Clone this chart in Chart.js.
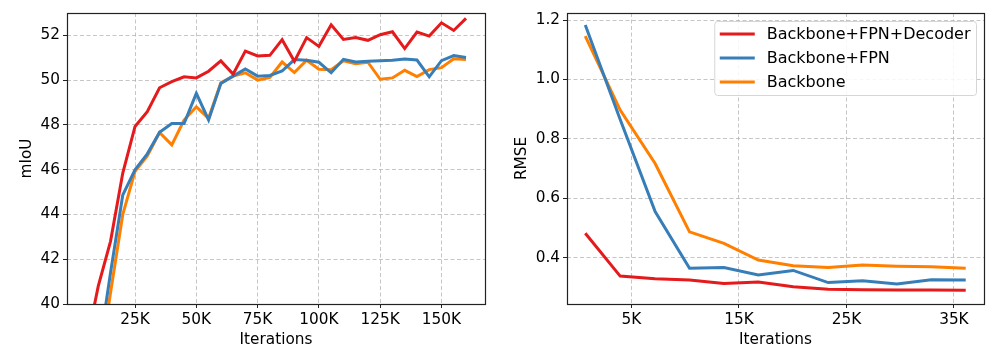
<!DOCTYPE html>
<html>
<head>
<meta charset="utf-8">
<script src="https://cdn.jsdelivr.net/npm/chart.js@4.4.0/dist/chart.umd.min.js"></script>
<style>
  body { margin: 0; background: #fff; }
  #wrap { position: relative; width: 997px; height: 353px; }
  canvas { position: absolute; top: 0; }
</style>
</head>
<body>
<div id="wrap">
  <canvas id="miou" width="490" height="353" style="left:0"></canvas>
  <canvas id="rmse" width="507" height="353" style="left:490px"></canvas>
</div>
<script>
// ---- data ----
const seriesNames = ['Backbone+FPN+Decoder', 'Backbone+FPN', 'Backbone'];
const seriesColors = ['#e41a1c', '#377eb8', '#ff7f00'];

// left panel: mIoU vs iterations
const miouIters = [5000, 10000, 15000, 20000, 25000, 30000, 35000, 40000, 45000, 50000,
  55000, 60000, 65000, 70000, 75000, 80000, 85000, 90000, 95000, 100000,
  105000, 110000, 115000, 120000, 125000, 130000, 135000, 140000, 145000, 150000,
  155000, 160000];
const miouDecoder = [38.1, 40.8, 42.8, 45.85, 47.93, 48.59, 49.66, 49.93, 50.15, 50.10,
  50.40, 50.86, 50.27, 51.30, 51.08, 51.11, 51.81, 50.84, 51.90, 51.51,
  52.47, 51.82, 51.90, 51.78, 52.03, 52.16, 51.41, 52.15, 51.97, 52.56,
  52.22, 52.76];
const miouFPN = [34.5, 37.7, 41.4, 44.87, 46.0, 46.71, 47.67, 48.06, 48.06, 49.41,
  48.22, 49.85, 50.18, 50.50, 50.18, 50.21, 50.41, 50.92, 50.89, 50.80,
  50.33, 50.93, 50.81, 50.84, 50.87, 50.89, 50.95, 50.90, 50.15, 50.87,
  51.10, 51.01];
const miouBackbone = [33.5, 36.9, 40.5, 44.0, 45.93, 46.62, 47.66, 47.11, 48.22, 48.81,
  48.30, 49.88, 50.18, 50.33, 50.00, 50.12, 50.81, 50.34, 50.89, 50.49,
  50.47, 50.86, 50.73, 50.80, 50.04, 50.10, 50.44, 50.16, 50.47, 50.56,
  50.96, 50.92];
const miouXTicks = [25000, 50000, 75000, 100000, 125000, 150000];
const miouYTicks = [40, 42, 44, 46, 48, 50, 52];

// right panel: RMSE vs iterations
const rmseIters = [700, 3950, 7200, 10400, 13600, 16800, 20050, 23300, 26500, 29700, 32900, 36100];
const rmseDecoder = [0.482, 0.338, 0.329, 0.325, 0.313, 0.318, 0.302, 0.294, 0.292, 0.291, 0.291, 0.290];
const rmseFPN = [1.183, 0.865, 0.555, 0.364, 0.367, 0.342, 0.357, 0.316, 0.322, 0.311, 0.326, 0.325];
const rmseBackbone = [1.146, 0.897, 0.717, 0.487, 0.448, 0.392, 0.373, 0.367, 0.375, 0.371, 0.369, 0.364];
const rmseXTicks = [5000, 15000, 25000, 35000];
const rmseYTicks = [0.4, 0.6, 0.8, 1.0, 1.2];

// ---- shared styling ----
const FONT = '"DejaVu Sans", sans-serif';
Chart.defaults.font.family = FONT;
Chart.defaults.color = '#000';

function toPoints(xs, ys) {
  return xs.map((x, i) => ({ x: x, y: ys[i] }));
}

function makeDatasets(xs, lists) {
  return lists.map((ys, i) => ({
    label: seriesNames[i],
    data: toPoints(xs, ys),
    borderColor: seriesColors[i],
    backgroundColor: seriesColors[i],
    borderWidth: 3,
    pointRadius: 0,
    tension: 0,
    clip: 0,
    order: i
  }));
}

const gridStyle = {
  color: 'rgba(176,176,176,0.8)',
  lineWidth: 0.9,
  tickColor: '#222',
  tickLength: 4,
  tickWidth: 1,
  tickBorderDash: []
};

// black box around the plot area like matplotlib spines
const framePlugin = {
  id: 'frame',
  afterDraw(chart) {
    const { ctx, chartArea: a } = chart;
    ctx.save();
    ctx.strokeStyle = '#222';
    ctx.lineWidth = 1.2;
    ctx.strokeRect(Math.round(a.left) + 0.5, Math.round(a.top) + 0.5,
      Math.round(a.right - a.left), Math.round(a.bottom - a.top));
    ctx.restore();
  }
};

// legend box in the upper right of the RMSE panel
const boxLegend = {
  id: 'boxLegend',
  afterDraw(chart) {
    const { ctx, chartArea: a } = chart;
    const sets = chart.data.datasets;
    ctx.save();
    ctx.font = '16px ' + FONT;
    const textW = Math.max(...sets.map(d => ctx.measureText(d.label).width));
    const w = textW + 58, h = 74;
    const x = a.right - 7.5 - w, y = a.top + 8.5;
    ctx.beginPath();
    ctx.roundRect(x, y, w, h, 3);
    ctx.fillStyle = 'rgba(255,255,255,0.85)';
    ctx.fill();
    ctx.strokeStyle = '#d6d6d6';
    ctx.lineWidth = 1;
    ctx.stroke();
    sets.forEach((d, i) => {
      const cy = y + 12.5 + i * 24;
      ctx.strokeStyle = d.borderColor;
      ctx.lineWidth = 3;
      ctx.beginPath();
      ctx.moveTo(x + 5, cy);
      ctx.lineTo(x + 40, cy);
      ctx.stroke();
      ctx.fillStyle = '#000';
      ctx.textBaseline = 'middle';
      ctx.fillText(d.label, x + 52, cy + 1);
    });
    ctx.restore();
  }
};

function axisOpts(min, max, tickVals, fmt, isX, fitSize) {
  return {
    type: 'linear',
    min: min,
    max: max,
    afterBuildTicks: s => { s.ticks = tickVals.map(v => ({ value: v })); },
    afterFit: s => { if (isX) s.height = fitSize; else s.width = fitSize; },
    ticks: {
      font: { size: 15.3 },
      color: '#000',
      padding: 3,
      maxRotation: 0,
      autoSkip: false,
      callback: fmt
    },
    grid: gridStyle,
    border: { display: false, dash: [4, 2.5] }
  };
}

const kFmt = v => (v / 1000) + 'K';

new Chart(document.getElementById('miou'), {
  type: 'line',
  data: { datasets: makeDatasets(miouIters, [miouDecoder, miouFPN, miouBackbone]) },
  options: {
    responsive: false,
    animation: false,
    layout: { padding: { left: 0, right: 5, top: 13, bottom: 0 } },
    plugins: { legend: { display: false }, tooltip: { enabled: false } },
    scales: {
      x: Object.assign(axisOpts(-2750, 167750, miouXTicks, kFmt, true, 49), {
        title: { display: true, text: 'Iterations', font: { size: 15.3 }, color: '#000', padding: { top: 2, bottom: 4 } }
      }),
      y: Object.assign(axisOpts(40, 53, miouYTicks, v => String(v), false, 67), {
        title: { display: true, text: 'mIoU', font: { size: 15.3 }, color: '#000', padding: { top: 18, bottom: 0 } }
      })
    }
  },
  plugins: [framePlugin]
});

new Chart(document.getElementById('rmse'), {
  type: 'line',
  data: { datasets: makeDatasets(rmseIters, [rmseDecoder, rmseFPN, rmseBackbone]) },
  options: {
    responsive: false,
    animation: false,
    layout: { padding: { left: 0, right: 13, top: 13, bottom: 0 } },
    plugins: { legend: { display: false }, tooltip: { enabled: false } },
    scales: {
      x: Object.assign(axisOpts(-1000, 37800, rmseXTicks, kFmt, true, 49), {
        title: { display: true, text: 'Iterations', font: { size: 15.3 }, color: '#000', padding: { top: 2, bottom: 4 } }
      }),
      y: Object.assign(axisOpts(0.244, 1.2236, rmseYTicks, v => v.toFixed(1), false, 77), {
        title: { display: true, text: 'RMSE', font: { size: 15.3 }, color: '#000', padding: { top: 22.5, bottom: 0 } }
      })
    }
  },
  plugins: [framePlugin, boxLegend]
});
</script>
</body>
</html>
